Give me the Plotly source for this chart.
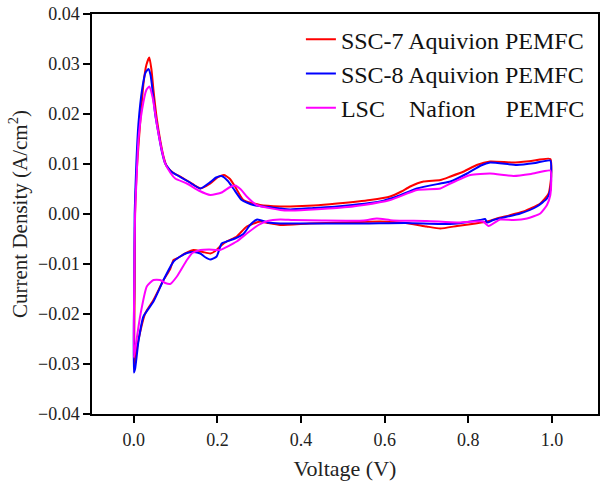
import plotly.graph_objects as go

# SSC-7 Aquivion PEMFC (red)
v_ssc7 = [0.001, 0.002, 0.003, 0.008, 0.015, 0.023, 0.030, 0.037, 0.042, 0.047, 0.055, 0.063, 0.071, 0.079,
          0.095, 0.111, 0.135, 0.159, 0.183, 0.200, 0.216, 0.230, 0.242, 0.262, 0.302, 0.350, 0.374, 0.430,
          0.486, 0.565, 0.613, 0.640, 0.661, 0.693, 0.733, 0.757, 0.789, 0.820, 0.852, 0.908, 0.950, 0.996,
          0.998, 0.992, 0.972, 0.932, 0.868, 0.845, 0.800, 0.773, 0.733, 0.700, 0.650, 0.589, 0.500, 0.420,
          0.350, 0.320, 0.302, 0.270, 0.246, 0.222, 0.206, 0.195, 0.183, 0.165, 0.143, 0.125, 0.103, 0.095,
          0.087, 0.071, 0.047, 0.027, 0.011, 0.003, 0.001]
i_ssc7 = [-0.0305, -0.015, 0.0, 0.010, 0.018, 0.026, 0.0298, 0.0313, 0.029, 0.0248, 0.019, 0.0148, 0.0115, 0.0095,
          0.0082, 0.0075, 0.0063, 0.0051, 0.0061, 0.0073, 0.0078, 0.0070, 0.0055, 0.0028, 0.0018, 0.0015, 0.0015, 0.0017,
          0.0021, 0.0028, 0.0035, 0.0045, 0.0055, 0.0065, 0.0068, 0.0075, 0.0085, 0.0098, 0.0105, 0.0103, 0.0106, 0.0110,
          0.0075, 0.0041, 0.0021, 0.0005, -0.0009, -0.0015, -0.0021, -0.0024, -0.0029, -0.0025, -0.0018, -0.0015, -0.0017, -0.0019,
          -0.0022, -0.0018, -0.0015, -0.0025, -0.0045, -0.0055, -0.0065, -0.0074, -0.0079, -0.0076, -0.0072, -0.0078, -0.0089, -0.0092,
          -0.0110, -0.0132, -0.0172, -0.0199, -0.0252, -0.0290, -0.0305]

# SSC-8 Aquivion PEMFC (blue)
v_ssc8 = [0.000, 0.001, 0.002, 0.006, 0.011, 0.020, 0.028, 0.035, 0.040, 0.043, 0.051, 0.059, 0.067, 0.075,
          0.089, 0.103, 0.130, 0.159, 0.180, 0.197, 0.210, 0.225, 0.238, 0.258, 0.286, 0.350, 0.374, 0.430,
          0.486, 0.589, 0.629, 0.677, 0.733, 0.757, 0.797, 0.830, 0.852, 0.916, 0.960, 0.996,
          0.998, 0.996, 0.988, 0.964, 0.924, 0.860, 0.845, 0.840, 0.828, 0.773, 0.733, 0.650, 0.550, 0.450,
          0.350, 0.320, 0.295, 0.278, 0.262, 0.242, 0.222, 0.210, 0.198, 0.183, 0.170, 0.159, 0.143, 0.127,
          0.111, 0.095, 0.071, 0.047, 0.023, 0.011, 0.003, 0.000]
i_ssc8 = [-0.0317, -0.015, 0.0, 0.010, 0.018, 0.025, 0.0283, 0.0290, 0.0278, 0.026, 0.020, 0.0161, 0.0125, 0.0101,
          0.0085, 0.0078, 0.0065, 0.0051, 0.0062, 0.0073, 0.0076, 0.0066, 0.0051, 0.0028, 0.0018, 0.0011, 0.0009, 0.0012,
          0.0015, 0.0025, 0.0035, 0.0051, 0.0061, 0.0065, 0.0081, 0.0097, 0.0103, 0.0098, 0.0102, 0.0107,
          0.0075, 0.0048, 0.0031, 0.0015, 0.0001, -0.0012, -0.0017, -0.0010, -0.0012, -0.0019, -0.0020, -0.0018, -0.0019, -0.0019,
          -0.0019, -0.0017, -0.0011, -0.0022, -0.0040, -0.0049, -0.0055, -0.0059, -0.0085, -0.0091, -0.0086, -0.0079, -0.0076, -0.0078,
          -0.0085, -0.0095, -0.0132, -0.0175, -0.0205, -0.0255, -0.0310, -0.0317]

# LSC Nafion PEMFC (magenta)
v_lsc = [0.000, 0.001, 0.003, 0.007, 0.011, 0.020, 0.030, 0.037, 0.045, 0.055, 0.065, 0.075, 0.087, 0.099,
         0.127, 0.155, 0.183, 0.210, 0.228, 0.242, 0.256, 0.270, 0.294, 0.350, 0.374, 0.486, 0.550, 0.613,
         0.677, 0.733, 0.757, 0.805, 0.852, 0.908, 0.950, 0.996,
         0.998, 0.996, 0.988, 0.972, 0.940, 0.908, 0.876, 0.848, 0.835, 0.773, 0.700, 0.620, 0.581, 0.550,
         0.450, 0.380, 0.350, 0.320, 0.298, 0.270, 0.246, 0.206, 0.180, 0.159, 0.140, 0.127, 0.103, 0.087,
         0.075, 0.063, 0.047, 0.031, 0.015, 0.003, 0.000]
i_lsc = [-0.0287, -0.014, 0.0, 0.008, 0.0148, 0.021, 0.0248, 0.0255, 0.0233, 0.018, 0.0135, 0.0101, 0.0083, 0.0071,
         0.0061, 0.0047, 0.0038, 0.0043, 0.0053, 0.0057, 0.0049, 0.0035, 0.0018, 0.0008, 0.0007, 0.0012, 0.0018, 0.0028,
         0.0048, 0.0051, 0.0061, 0.0078, 0.0081, 0.0076, 0.0080, 0.0087,
         0.0060, 0.0038, 0.0018, 0.0001, -0.0009, -0.0012, -0.0011, -0.0024, -0.0015, -0.0017, -0.0014, -0.0013, -0.0009, -0.0013,
         -0.0013, -0.0012, -0.0011, -0.0014, -0.0022, -0.0039, -0.0055, -0.0072, -0.0071, -0.0072, -0.0078, -0.0092, -0.0125, -0.0140,
         -0.0138, -0.0132, -0.0132, -0.0145, -0.0205, -0.0272, -0.0287]

names = ["SSC-7 Aquivion PEMFC", "SSC-8 Aquivion PEMFC", "LSC\u00a0\u00a0\u00a0\u00a0Nafion\u00a0\u00a0\u00a0\u00a0\u00a0PEMFC"]
colors = ["#FF0000", "#0000FF", "#FF00FF"]
x_ticks = [0.0, 0.2, 0.4, 0.6, 0.8, 1.0]

fig = go.Figure()
for v, i, n, c in zip([v_ssc7, v_ssc8, v_lsc], [i_ssc7, i_ssc8, i_lsc], names, colors):
    fig.add_trace(go.Scatter(x=v, y=i, mode="lines", name=n,
                             line=dict(color=c, width=2, shape="spline", smoothing=0.5)))

font_family = "Liberation Serif"
fig.update_layout(
    width=602, height=483,
    margin=dict(l=92, r=4, t=14, b=69),
    paper_bgcolor="white", plot_bgcolor="white",
    font=dict(family=font_family, color="#222"),
    showlegend=True,
    legend=dict(x=0.984, y=0.992, xanchor="right", yanchor="top",
                font=dict(size=24, family=font_family, color="#111"),
                bgcolor="rgba(0,0,0,0)", itemwidth=30, tracegroupgap=0),
    xaxis=dict(range=[-0.1, 1.11], tickvals=x_ticks, tickformat=".1f", automargin=False,
               showgrid=False, zeroline=False, showline=True, mirror=True,
               linecolor="black", linewidth=1.5, ticks="outside", ticklen=7, tickwidth=1.5,
               tickcolor="black", tickfont=dict(size=18, family=font_family, color="#222"),
               ticklabelstandoff=2,
               title=dict(text="Voltage (V)", font=dict(size=22, family=font_family, color="#222"), standoff=11)),
    yaxis=dict(range=[-0.04, 0.04], dtick=0.01, tickformat=".2f", automargin=False,
               showgrid=False, zeroline=False, showline=True, mirror=True,
               linecolor="black", linewidth=1.5, ticks="outside", ticklen=7, tickwidth=1.5,
               tickcolor="black", tickfont=dict(size=18, family=font_family, color="#222"),
               title=dict(text="Current Density (A/cm<sup>2</sup>)",
                          font=dict(size=21, family=font_family, color="#222"), standoff=5)),
)

fig.write_html("out.html", config={"displayModeBar": False},
               post_script="document.body.style.margin='0';")
